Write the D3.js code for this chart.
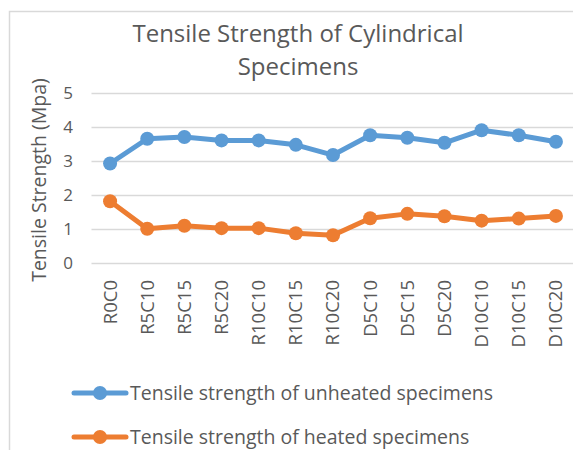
<!DOCTYPE html>
<html>
<head>
<meta charset="utf-8">
<script src="https://cdn.jsdelivr.net/npm/d3@7"></script>
<style>
body{margin:0;background:#fff;}
text{font-family:"Open Sans",Lato,sans-serif;fill:#595959;}
</style>
</head>
<body>
<script>
var w=573;
var h=450;

var categories=["R0C0","R5C10","R5C15","R5C20","R10C10","R10C15","R10C20","D5C10","D5C15","D5C20","D10C10","D10C15","D10C20"];
var unheated=[2.94,3.67,3.72,3.62,3.62,3.49,3.19,3.77,3.70,3.55,3.92,3.77,3.58];
var heated=[1.83,1.02,1.11,1.04,1.04,0.89,0.83,1.33,1.46,1.39,1.26,1.32,1.40];
var yTicks=[0,1,2,3,4,5];
var seriesNames=["Tensile strength of unheated specimens","Tensile strength of heated specimens"];
var colors=["#5b9bd5","#ed7d31"];

var xScale=d3.scaleBand()
    .domain(categories)
    .range([91.5,574.5]);

var yScale=d3.scaleLinear()
    .domain([0,5])
    .range([263.5,93.5]);

var svg=d3.select("body")
    .append("svg")
    .attr("width",w)
    .attr("height",h);

// chart border (runs off the right and bottom edge)
svg.append("rect")
    .attr("x",9.5)
    .attr("y",11.5)
    .attr("width",w+20)
    .attr("height",h+20)
    .attr("fill","none")
    .attr("stroke","#d9d9d9")
    .attr("stroke-width",1.5);

svg.append("text")
    .attr("x",298)
    .attr("y",42)
    .attr("text-anchor","middle")
    .style("font-size","24px")
    .text("Tensile Strength of Cylindrical");

svg.append("text")
    .attr("x",298)
    .attr("y",75)
    .attr("text-anchor","middle")
    .style("font-size","24px")
    .text("Specimens");

// gridlines
svg.selectAll(".grid")
    .data(yTicks)
    .enter()
    .append("line")
    .attr("x1",91.5)
    .attr("x2",w)
    .attr("y1",function(d){return yScale(d);})
    .attr("y2",function(d){return yScale(d);})
    .attr("stroke","#d9d9d9")
    .attr("stroke-width",1.5);

svg.selectAll(".ylab")
    .data(yTicks)
    .enter()
    .append("text")
    .attr("x",73)
    .attr("y",function(d){return yScale(d);})
    .attr("dy","0.35em")
    .attr("text-anchor","end")
    .style("font-size","17px")
    .text(function(d){return d;});

svg.append("text")
    .attr("transform","translate(46,180) rotate(-90)")
    .attr("text-anchor","middle")
    .style("font-size","19.5px")
    .text("Tensile Strength (Mpa)");

svg.selectAll(".xlab")
    .data(categories)
    .enter()
    .append("text")
    .attr("transform",function(d){
        return "translate("+(xScale(d)+xScale.bandwidth()/2)+",280) rotate(-90)";
    })
    .attr("dy","0.35em")
    .attr("text-anchor","end")
    .style("font-size","18.5px")
    .text(function(d){return d;});

var line=d3.line()
    .x(function(d,i){return xScale(categories[i])+xScale.bandwidth()/2;})
    .y(function(d){return yScale(d);});

[unheated,heated].forEach(function(series,k){
    svg.append("path")
        .datum(series)
        .attr("d",line)
        .attr("fill","none")
        .attr("stroke",colors[k])
        .attr("stroke-width",5)
        .attr("stroke-linejoin","round");

    svg.selectAll(".pt"+k)
        .data(series)
        .enter()
        .append("circle")
        .attr("cx",function(d,i){return xScale(categories[i])+xScale.bandwidth()/2;})
        .attr("cy",function(d){return yScale(d);})
        .attr("r",7)
        .attr("fill",colors[k]);
});

// legend
var legend=svg.selectAll(".legend")
    .data(seriesNames)
    .enter()
    .append("g")
    .attr("transform",function(d,i){return "translate(0,"+(393+i*44)+")";});

legend.append("line")
    .attr("x1",74)
    .attr("x2",126)
    .attr("stroke",function(d,i){return colors[i];})
    .attr("stroke-width",5)
    .attr("stroke-linecap","round");

legend.append("circle")
    .attr("cx",100)
    .attr("r",7)
    .attr("fill",function(d,i){return colors[i];});

legend.append("text")
    .attr("x",130)
    .attr("dy","0.35em")
    .style("font-size","19.5px")
    .text(function(d){return d;});
</script>
</body>
</html>
